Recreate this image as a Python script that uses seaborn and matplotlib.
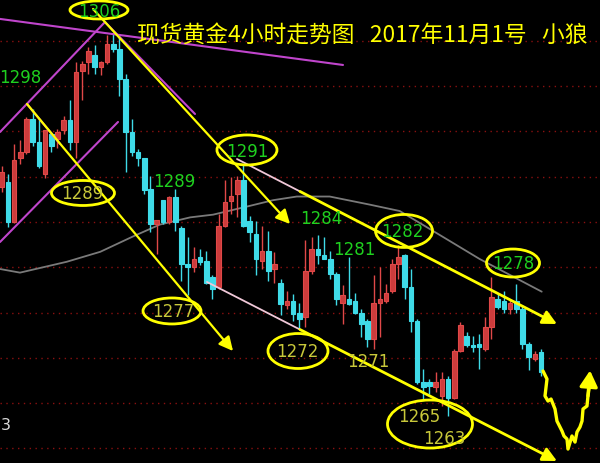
import numpy as np
import pandas as pd
import seaborn as sns
import matplotlib
matplotlib.use("Agg")
import matplotlib.pyplot as plt
from matplotlib.patches import Ellipse

# ---------------- data: 4h candles of spot gold (bar index 0..87) ----------------
opens = [1288.8, 1289.4, 1285.0, 1292.0, 1292.7, 1296.4, 1293.8, 1290.3, 1294.7, 1294.2,
         1295.1, 1296.2, 1293.8, 1301.7, 1302.6, 1303.4, 1302.1, 1302.6, 1304.6, 1304.1,
         1300.8, 1294.9, 1292.7, 1292.0, 1288.65, 1284.8, 1287.4, 1285.0, 1287.7, 1284.3,
         1280.4, 1280.0, 1281.1, 1280.7, 1278.9, 1277.8, 1284.6, 1287.35, 1288.1, 1289.6,
         1285.15, 1283.7, 1280.7, 1281.8, 1279.8, 1278.3, 1275.8, 1276.3, 1275.0, 1274.5,
         1279.6, 1282.0, 1281.3, 1280.9, 1279.3, 1276.1, 1276.5, 1276.3, 1275.0, 1274.1,
         1272.1, 1276.0, 1276.3, 1277.4, 1280.4, 1281.3, 1277.8, 1274.1, 1267.3, 1267.3,
         1266.8, 1265.8, 1267.7, 1265.6, 1270.8, 1272.4, 1271.4, 1271.5, 1271.0, 1273.4,
         1276.5, 1276.3, 1275.4, 1276.3, 1275.4, 1271.5, 1269.9, 1270.6]
highs = [1291.2, 1290.3, 1293.6, 1294.0, 1296.6, 1297.5, 1296.4, 1295.1, 1294.9, 1295.3,
         1296.7, 1298.4, 1302.6, 1302.8, 1304.3, 1304.5, 1302.8, 1305.6, 1305.9, 1305.6,
         1301.3, 1296.4, 1293.1, 1292.1, 1290.1, 1285.2, 1287.4, 1287.9, 1288.65, 1284.6,
         1283.3, 1282.2, 1282.0, 1281.8, 1279.1, 1285.9, 1289.6, 1289.9, 1290.1, 1291.3,
         1285.7, 1285.15, 1284.6, 1284.05, 1281.65, 1278.7, 1277.4, 1277.05, 1276.1, 1283.0,
         1283.3, 1283.5, 1283.3, 1281.8, 1279.45, 1278.0, 1281.1, 1277.2, 1275.4, 1274.3,
         1279.1, 1280.0, 1278.1, 1280.9, 1282.4, 1281.5, 1279.8, 1274.3, 1268.8, 1267.7,
         1268.4, 1268.4, 1268.0, 1271.0, 1273.9, 1272.8, 1272.4, 1272.6, 1274.5, 1278.9,
         1277.0, 1277.4, 1276.5, 1278.1, 1275.8, 1271.7, 1270.8, 1271.0]
lows = [1288.3, 1284.4, 1284.9, 1291.4, 1292.5, 1293.4, 1290.9, 1289.8, 1292.7, 1293.2,
        1294.7, 1292.9, 1292.0, 1298.4, 1301.3, 1301.3, 1301.2, 1302.4, 1303.7, 1298.9,
        1290.5, 1292.3, 1291.2, 1288.1, 1283.9, 1281.5, 1284.8, 1284.8, 1284.05, 1278.5,
        1276.9, 1279.45, 1280.2, 1278.2, 1276.5, 1277.6, 1284.4, 1285.9, 1285.5, 1284.4,
        1282.75, 1279.1, 1279.8, 1278.5, 1278.3, 1274.7, 1275.4, 1274.1, 1273.2, 1273.4,
        1279.3, 1280.4, 1280.85, 1278.7, 1275.8, 1273.75, 1275.8, 1274.85, 1272.3, 1271.2,
        1271.0, 1272.3, 1276.1, 1277.2, 1278.7, 1276.5, 1272.8, 1267.1, 1265.5, 1266.0,
        1266.2, 1264.7, 1263.6, 1265.5, 1270.6, 1271.2, 1270.6, 1268.8, 1270.8, 1272.1,
        1275.4, 1275.0, 1274.8, 1275.0, 1271.0, 1268.6, 1269.7, 1268.0]
closes = [1290.5, 1285.0, 1291.8, 1292.7, 1296.4, 1293.8, 1291.2, 1295.1, 1293.4, 1294.9,
          1296.2, 1293.8, 1301.5, 1302.4, 1303.9, 1302.1, 1302.6, 1304.6, 1304.1, 1300.8,
          1294.9, 1292.7, 1292.0, 1288.5, 1284.8, 1285.2, 1285.0, 1287.7, 1285.0, 1280.4,
          1280.0, 1280.9, 1280.55, 1278.3, 1277.6, 1284.6, 1287.2, 1287.9, 1289.6, 1284.6,
          1283.9, 1280.9, 1281.8, 1279.6, 1280.4, 1275.95, 1276.3, 1274.85, 1274.3, 1279.6,
          1282.0, 1281.3, 1280.9, 1279.3, 1276.5, 1276.9, 1275.95, 1275.0, 1273.7, 1272.1,
          1276.0, 1276.5, 1277.2, 1280.4, 1281.1, 1277.8, 1274.1, 1267.3, 1266.8, 1266.9,
          1267.3, 1267.7, 1265.6, 1270.8, 1273.6, 1271.4, 1271.2, 1271.2, 1273.4, 1276.7,
          1275.6, 1275.4, 1276.0, 1275.4, 1271.5, 1270.1, 1270.4, 1268.4]

# moving average (gray curve), read at several bars
ma_idx = [-0.27, 2.95, 10.5, 15.9, 21.2, 25.5, 30.4, 34.1, 39.6, 43.8, 47.6, 52.9, 59.4, 64.2, 68.6, 77.1, 87.1]
ma_val = [1279.8, 1279.4, 1280.6, 1281.7, 1283.4, 1284.7, 1285.5, 1285.8, 1286.7, 1287.4,
          1287.8, 1287.8, 1286.9, 1286.2, 1284.4, 1280.9, 1277.3]

grid_levels = [1260, 1265, 1270, 1275, 1280, 1285, 1290, 1295, 1300, 1305]

# hand-drawn analysis (bar index, price)
purple_lines = [((-0.27, 1307.40), (55.05, 1302.32)),
                ((-0.27, 1294.92), (16.66, 1307.06)),
                ((-0.27, 1282.78), (18.76, 1296.03)),
                ((16.66, 1307.06), (31.18, 1296.91)),
                ((4.08, 1298.01), (9.40, 1293.60))]
pink_lines = [((37.95, 1291.94), (48.11, 1288.36)),
              ((33.11, 1278.37), (48.11, 1273.12))]
yellow_arrows = [((14.73, 1308.50), (46.50, 1284.77)),
                 ((4.08, 1298.01), (37.31, 1270.75)),
                 ((48.11, 1288.36), (89.56, 1273.73)),
                 ((48.11, 1273.12), (89.56, 1258.61))]
ellipses = [(15.69, 1308.39, 9.35, 1.99), (39.56, 1292.94, 9.68, 3.31),
            (13.11, 1288.19, 10.16, 2.76), (27.47, 1275.17, 9.35, 2.87),
            (47.79, 1270.75, 9.68, 3.86), (64.89, 1284.0, 9.19, 3.64),
            (82.47, 1280.46, 8.55, 3.09), (69.08, 1262.69, 13.71, 5.30)]
green_labels = [("1306", 15.69, 1308.30), ("1298", 2.95, 1300.99), ("1291", 39.56, 1292.85),
                ("1289", 27.79, 1289.51), ("1284", 51.5, 1285.42), ("1281", 56.82, 1282.01),
                ("1282", 64.6, 1284.0), ("1278", 82.47, 1280.46)]
olive_labels = [("1289", 13.0, 1288.19), ("1277", 27.6, 1275.17), ("1272", 47.6, 1270.75),
                ("1271", 59.08, 1269.65), ("1265", 67.31, 1263.57), ("1263", 71.34, 1261.15)]
forecast_x = [87.31, 87.95, 87.63, 88.11, 88.60, 89.24, 89.56, 90.37, 90.69, 91.18, 91.34,
              91.98, 92.47, 92.79, 93.27, 93.60, 93.76, 94.40, 94.56, 94.89]
forecast_y = [1268.54, 1267.66, 1265.79, 1265.23, 1265.45, 1264.35, 1263.02, 1261.92, 1261.37,
              1261.03, 1259.93, 1261.37, 1260.70, 1261.81, 1262.36, 1263.02, 1264.35, 1264.68,
              1265.79, 1267.33]
forecast_tip = (94.89, 1268.6)
title = "现货黄金4小时走势图   2017年11月1号   小狼"

# ---------------- style ----------------
sns.set_style("dark", {"axes.facecolor": "black", "figure.facecolor": "black"})
plt.rcParams['font.family'] = ['Noto Sans CJK SC', 'DejaVu Sans']

RED = "#e04848"
CYAN = "#3fdbe8"
YEL = "#ffff00"
PURPLE = "#c045cc"
GREEN = "#1fd01f"
OLIVE = "#c8c83a"

fig = plt.figure(figsize=(6.0, 4.64), dpi=100)
ax = fig.add_axes([0, 0, 1, 1])
ax.set_facecolor("black")
ax.set_xlim(-0.274, 96.5)
ax.set_ylim(1258.39, 1309.6)
for s in ax.spines.values():
    s.set_visible(False)
ax.set_xticks([])
ax.set_yticks([])

for lv in grid_levels:
    ax.axhline(lv, color="#8a1010", lw=1.0, ls=(0, (1, 3.2)), zorder=1)

df = pd.DataFrame({"o": opens, "h": highs, "l": lows, "c": closes})
df["i"] = np.arange(len(df))
up = df["c"] >= df["o"]

sns.lineplot(x=ma_idx, y=ma_val, ax=ax, color="#7a7a7a", lw=1.3, zorder=2, sort=False)

W = 0.72
for is_up, col in [(True, RED), (False, CYAN)]:
    d = df[up == is_up]
    ax.vlines(d["i"], d["l"], d["h"], color=col, lw=1.0, zorder=3)
    bottom = np.minimum(d["o"], d["c"])
    height = np.maximum(np.abs(d["c"] - d["o"]), 0.15)
    face = "#cc3c3c" if is_up else col
    ax.bar(d["i"], height, bottom=bottom, width=W, facecolor=face,
           edgecolor=col, linewidth=0.8, zorder=4)

for (a, b) in purple_lines:
    ax.plot([a[0], b[0]], [a[1], b[1]], color=PURPLE, lw=1.5, zorder=5)
for (a, b) in pink_lines:
    ax.plot([a[0], b[0]], [a[1], b[1]], color="#f0c8d8", lw=1.3, zorder=5)
for k, (a, b) in enumerate(yellow_arrows):
    ax.annotate("", xy=b, xytext=a,
                arrowprops=dict(arrowstyle="-|>,head_length=0.7,head_width=0.35",
                                color=YEL, lw=1.6 if k < 2 else 2.0,
                                shrinkA=0, shrinkB=0, mutation_scale=12), zorder=6)

ax.plot(forecast_x, forecast_y, color=YEL, lw=2.4, zorder=6, solid_joinstyle="round")
ax.annotate("", xy=forecast_tip, xytext=(forecast_x[-2], forecast_y[-2]),
            arrowprops=dict(arrowstyle="-|>,head_length=0.8,head_width=0.45",
                            color=YEL, lw=2.4, shrinkA=0, shrinkB=0, mutation_scale=12), zorder=6)

for (cx, cy, w, h) in ellipses:
    ax.add_patch(Ellipse((cx, cy), w, h, fill=False, edgecolor=YEL, lw=2.0, zorder=7))

for (t, x, y) in green_labels:
    ax.text(x, y, t, color=GREEN, fontsize=12, family="DejaVu Sans", ha="center",
            va="center", zorder=8)
for (t, x, y) in olive_labels:
    ax.text(x, y, t, color=OLIVE, fontsize=12, family="DejaVu Sans", ha="center",
            va="center", zorder=8)

ax.text(-0.2, 1262.69, "3", color="#d8d8d8", fontsize=11.5, family="DejaVu Sans",
        ha="left", va="center", zorder=8)

ax.text(137 / 600, 1 - 36 / 464, title, transform=ax.transAxes, color=YEL,
        fontsize=16.4, ha="left", va="center", zorder=9,
        family=['Noto Sans CJK SC', 'DejaVu Sans'])

fig.savefig("out.png", dpi=100, facecolor="black")
